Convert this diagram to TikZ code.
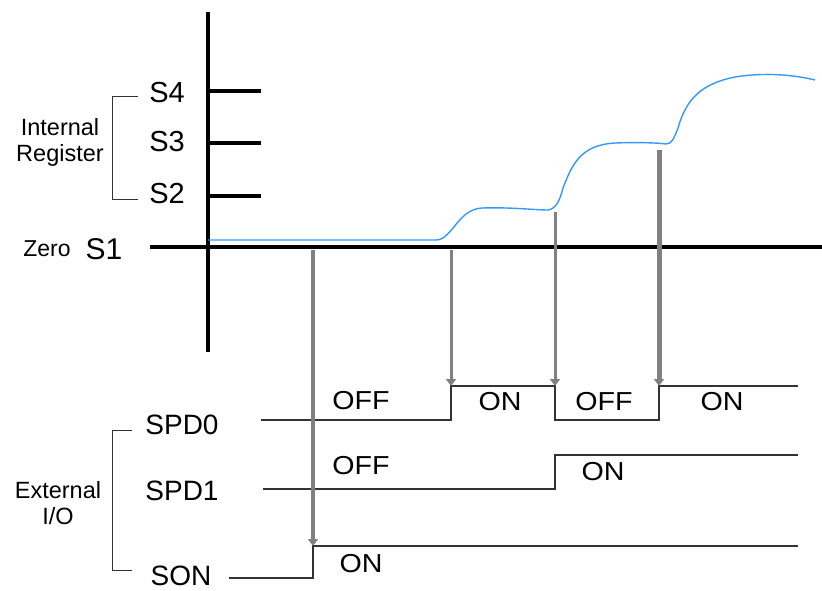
\documentclass[tikz,border=0pt]{standalone}
\usepackage{fontspec}
\setmainfont{Liberation Sans}
\newfontfamily\widefont[FakeStretch=1.1]{Liberation Sans}
\usetikzlibrary{arrows.meta}
\definecolor{curveblue}{RGB}{51,153,255}
\definecolor{arrgray}{RGB}{128,128,128}
\begin{document}
\begin{tikzpicture}[x=1pt,y=-1pt,
  axisline/.style={line width=4pt},
  sigline/.style={line width=1.4pt, black!80},
  bracketline/.style={line width=0.8pt, black!80},
  garrow/.style={draw=arrgray, -{Triangle[width=10pt,length=7pt]}},
  txtS/.style={inner sep=0pt, font=\fontsize{29}{32}\selectfont},
  txtM/.style={inner sep=0pt, font=\fontsize{28}{30}\selectfont},
  txtState/.style={inner sep=0pt, font=\widefont\fontsize{26}{28}\selectfont},
  txtL/.style={inner sep=0pt, font=\fontsize{23.5}{26}\selectfont, align=center}]
\useasboundingbox (0,0) rectangle (822,590);
% axes
\coordinate (axtop) at (208,12);
\coordinate (axbot) at (208,352);
\coordinate (zl) at (150,247);
\coordinate (zr) at (822,247);
\draw[axisline] (axtop) -- (axbot);
\draw[axisline] (zl) -- (zr);
% ticks
\foreach \n/\y in {4/91,3/143,2/196}{
  \coordinate (t\n a) at (208,\y);
  \coordinate (t\n b) at (261,\y);
  \draw[axisline] (t\n a) -- (t\n b);
}
% labels upper
\node[txtS] (s4) at (167,92.5) {S4};
\node[txtS] (s3) at (167,142) {S3};
\node[txtS] (s2) at (167,194) {S2};
\node[inner sep=0pt, font=\fontsize{30}{32}\selectfont] (s1) at (104,249) {S1};
\node[inner sep=0pt, font=\fontsize{23}{26}\selectfont] (zero) at (47,249) {Zero};
\node[txtL] (intreg) at (60,142) {Internal\\Register};
\coordinate (b1a) at (138,96);
\coordinate (b1b) at (112,96);
\coordinate (b1c) at (112,199);
\coordinate (b1d) at (138,199);
\draw[bracketline] (b1a) -- (b1b) -- (b1c) -- (b1d);
% blue curve
\draw[curveblue, line width=1.4pt] (208,240) -- (436,240)
  .. controls (452,240) and (458,209) .. (482,208)
  .. controls (510,207) and (535,210) .. (548,210)
  .. controls (556,209) and (560,200) .. (563,188)
  .. controls (572,165) and (580,145) .. (615,143)
  .. controls (640,142) and (660,143) .. (666,144)
  .. controls (672,144) and (674,138) .. (678,128)
  .. controls (686,100) and (700,84) .. (735,77)
  .. controls (765,72) and (795,75) .. (815,80);
% lower labels
\node[txtM] (spd0) at (182,425) {SPD0};
\node[txtM] (spd1) at (182,491) {SPD1};
\node[txtM] (son) at (181,576) {SON};
\node[txtL] (extio) at (58,503) {External\\I/O};
\coordinate (b2a) at (132,430);
\coordinate (b2b) at (112,430);
\coordinate (b2c) at (112,570);
\coordinate (b2d) at (132,570);
\draw[bracketline] (b2a) -- (b2b) -- (b2c) -- (b2d);
% signals
\coordinate (p0s) at (261,420);
\coordinate (p0a) at (451,420);
\coordinate (p0b) at (451,386);
\coordinate (p0c) at (555,386);
\coordinate (p0d) at (555,420);
\coordinate (p0e) at (659,420);
\coordinate (p0f) at (659,386);
\coordinate (p0g) at (798,386);
\draw[sigline] (p0s) -- (p0a) -- (p0b) -- (p0c) -- (p0d) -- (p0e) -- (p0f) -- (p0g);
\coordinate (p1s) at (263,489);
\coordinate (p1a) at (555,489);
\coordinate (p1b) at (555,455);
\coordinate (p1c) at (798,455);
\draw[sigline] (p1s) -- (p1a) -- (p1b) -- (p1c);
\coordinate (p2s) at (229,578);
\coordinate (p2a) at (313,578);
\coordinate (p2b) at (313,546);
\coordinate (p2c) at (798,546);
\draw[sigline] (p2s) -- (p2a) -- (p2b) -- (p2c);
% state labels
\node[txtState] (off1) at (361,401) {OFF};
\node[txtState] (on1) at (500,401.5) {ON};
\node[txtState] (off2) at (604,401.5) {OFF};
\node[txtState] (on2) at (722,401.5) {ON};
\node[txtState] (off3) at (361,466) {OFF};
\node[txtState] (on3) at (603,472) {ON};
\node[txtState] (on4) at (361,564) {ON};
% gray arrows
\coordinate (a1s) at (451,250);
\coordinate (a2s) at (555,212);
\coordinate (a3s) at (659,150);
\coordinate (a4s) at (313,250);
\draw[garrow, line width=3pt] (a1s) -- (p0b);
\draw[garrow, line width=3pt] (a2s) -- (p0c);
\draw[garrow, line width=5pt] (a3s) -- (p0f);
\draw[garrow, line width=4pt] (a4s) -- (p2b);
\end{tikzpicture}
\end{document}
